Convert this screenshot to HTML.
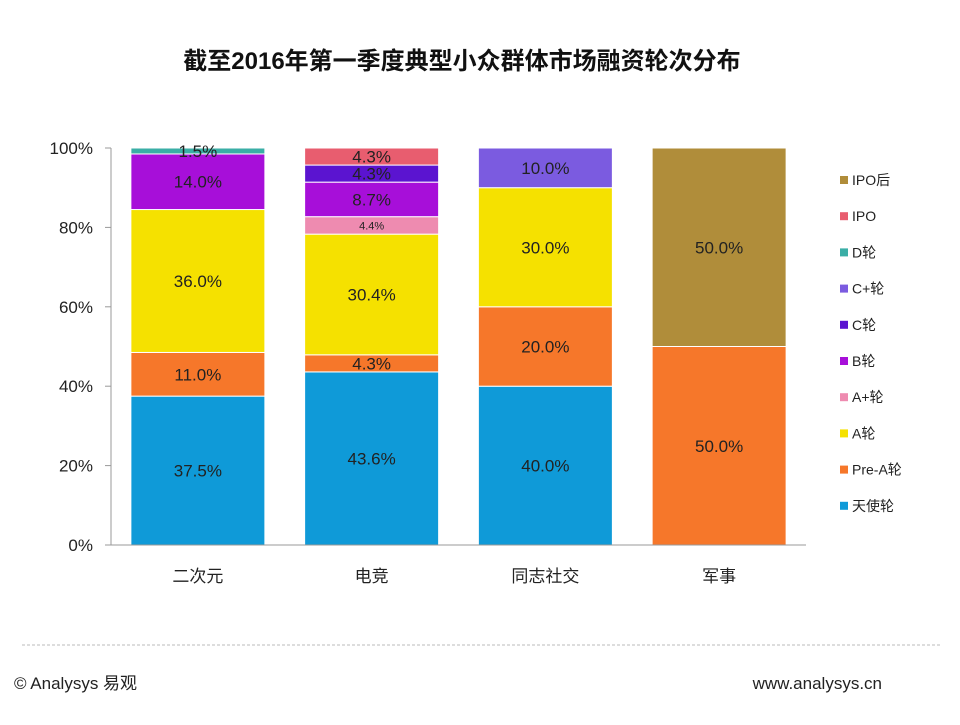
<!DOCTYPE html>
<html><head><meta charset="utf-8"><style>
body{margin:0;background:#fff;width:960px;height:720px;overflow:hidden;font-family:"Liberation Sans","Noto Sans CJK SC",sans-serif}
svg text{font-family:"Liberation Sans","Noto Sans CJK SC",sans-serif}
</style></head><body>
<svg id="c" width="960" height="720">
<text x="462" y="69" text-anchor="middle" font-size="24" font-weight="bold" fill="#111">截至2016年第一季度典型小众群体市场融资轮次分布</text>
<line x1="22" y1="645" x2="940" y2="645" stroke="#bbb" stroke-dasharray="3,2"/>
<text x="14" y="689" font-size="17" fill="#222">© Analysys 易观</text>
<text x="882" y="689" text-anchor="end" font-size="17" fill="#222">www.analysys.cn</text>
</svg>
<script>
const categories=["二次元","电竞","同志社交","军事"];
const series=["天使轮","Pre-A轮","A轮","A+轮","B轮","C轮","C+轮","D轮","IPO","IPO后"];
const colors=["#0f9ad8","#f6772a","#f5e100","#ee8bb0","#a70fd9","#5b14d0","#7b5be0","#3aaea6","#e85d6f","#b08d3a"];
const s_angel=[37.5,43.6,40,0];
const s_preA=[11,4.3,20,50];
const s_A=[36,30.4,30,0];
const s_Aplus=[0,4.4,0,0];
const s_B=[14,8.7,0,0];
const s_C=[0,4.3,0,0];
const s_Cplus=[0,0,10,0];
const s_D=[1.5,0,0,0];
const s_IPO=[0,4.3,0,0];
const s_postIPO=[0,0,0,50];
const yTicks=[0,20,40,60,80,100];
const vals=[s_angel,s_preA,s_A,s_Aplus,s_B,s_C,s_Cplus,s_D,s_IPO,s_postIPO];
const NS="http://www.w3.org/2000/svg",svg=document.getElementById('c');
const x0=111,x1=806,y0=545,y1=148;
const Y=v=>y0-(y0-y1)*v/100;
const bw=(x1-x0)/categories.length;
const X=i=>x0+bw*(i+0.5);
function mk(t,a){const e=document.createElementNS(NS,t);for(const k in a)e.setAttribute(k,a[k]);svg.appendChild(e);return e;}
yTicks.forEach(t=>{
 const l=mk('line',{x1:x0-6,x2:x0,y1:Y(t),y2:Y(t),stroke:'#999'});
 
 
 const tx=mk('text',{x:x0-18,y:Y(t)+6,'text-anchor':'end','font-size':17,fill:'#222'});
 tx.textContent=t+'%';
 
 
});
const ya=mk('line',{x1:x0,x2:x0,y1:y1,y2:y0,stroke:'#999'});


categories.forEach((c,i)=>{
 let acc=0;
 vals.forEach((arr,s)=>{
  const v=arr[i];if(!v)return;
  const top=Y(acc+v),bot=Y(acc);
  const r=mk('rect',{x:X(i)-67,y:top,width:134,height:bot-top,fill:colors[s],stroke:'#fff','stroke-width':1});
  
  
  const small=(s===3);
  const t=mk('text',{x:X(i),y:(top+bot)/2+(small?4:6),'text-anchor':'middle','font-size':small?11:17,fill:'#222'});
  t.textContent=v.toFixed(1)+'%';
  
  
  acc+=v;
 });
 const ct=mk('text',{x:X(i),y:582,'text-anchor':'middle','font-size':17,fill:'#222'});
 ct.textContent=c;
 
 
});
const xa=mk('line',{x1:x0,x2:x1,y1:y0,y2:y0,stroke:'#999'});


for(let k=series.length-1,j=0;k>=0;k--,j++){
 const y=181+j*36.2;
 const r=mk('rect',{x:840,y:y-5,width:8,height:8,fill:colors[k]});
 
 
 const t=mk('text',{x:852,y:y+4,'font-size':14,fill:'#222'});
 t.textContent=series[k];
 
 
}
</script>
</body></html>
